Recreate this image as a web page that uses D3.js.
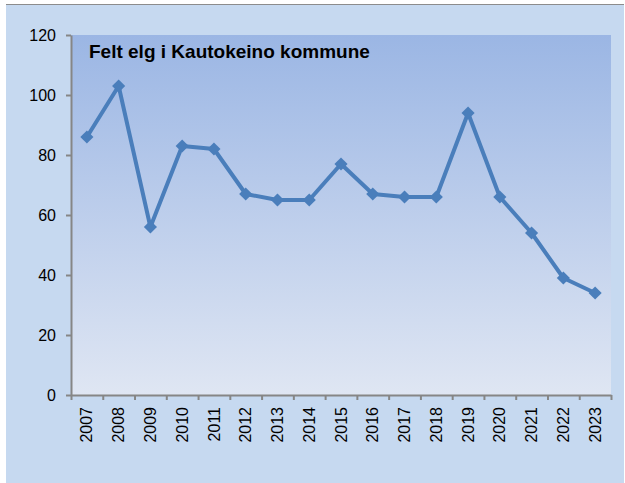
<!DOCTYPE html>
<html>
<head>
<meta charset="utf-8">
<script src="https://cdn.jsdelivr.net/npm/d3@7"></script>
<style>
    body { margin: 0; background: #fff; }
    text { font-family: "Liberation Sans", Arial, sans-serif; fill: #000; }
    .chart-title { font-size: 19px; font-weight: bold; }
</style>
</head>
<body>
<div id="chart"></div>
<script>
// Data
const years = ["2007", "2008", "2009", "2010", "2011", "2012", "2013", "2014", "2015",
    "2016", "2017", "2018", "2019", "2020", "2021", "2022", "2023"];
const felt = [86, 103, 56, 83, 82, 67, 65, 65, 77, 67, 66, 66, 94, 66, 54, 39, 34];
const yTicks = [0, 20, 40, 60, 80, 100, 120];

const width = 625;
const height = 483;
const margin = { top: 35, right: 14, bottom: 88, left: 71 };
const innerWidth = width - margin.left - margin.right;
const innerHeight = height - margin.top - margin.bottom;

const svg = d3.select("#chart")
    .append("svg")
    .attr("width", width)
    .attr("height", height);

const defs = svg.append("defs");
const gradient = defs.append("linearGradient")
    .attr("id", "plot-gradient")
    .attr("x1", "0%").attr("y1", "0%")
    .attr("x2", "0%").attr("y2", "100%");
gradient.append("stop").attr("offset", "0%").attr("stop-color", "#9bb6e4");
gradient.append("stop").attr("offset", "100%").attr("stop-color", "#dfe6f3");

// chart background
svg.append("rect")
    .attr("x", 6).attr("y", 4)
    .attr("width", width - 7).attr("height", height - 4)
    .attr("fill", "#c6d9f0");
svg.append("line")
    .attr("x1", 6).attr("x2", width - 1)
    .attr("y1", 4.5).attr("y2", 4.5)
    .attr("stroke", "#8c8c8c")
    .attr("stroke-width", 1);

const innerChart = svg.append("g")
    .attr("transform", `translate(${margin.left}, ${margin.top})`);

const xScale = d3.scaleBand()
    .domain(years)
    .range([0, innerWidth]);

const yScale = d3.scaleLinear()
    .domain([0, 120])
    .range([innerHeight, 0]);

innerChart.append("rect")
    .attr("width", innerWidth)
    .attr("height", innerHeight)
    .attr("fill", "url(#plot-gradient)");

// axes
const leftAxis = d3.axisLeft(yScale)
    .tickValues(yTicks)
    .tickSize(5)
    .tickPadding(10)
    .tickSizeOuter(0);

const yAxis = innerChart.append("g")
    .attr("class", "axis-y")
    .call(leftAxis)
    .attr("font-size", 16)
    .attr("font-family", null);

const bottomAxis = d3.axisBottom(xScale)
    .tickSize(0)
    .tickSizeOuter(0);

const xAxis = innerChart.append("g")
    .attr("class", "axis-x")
    .attr("transform", `translate(0, ${innerHeight})`)
    .call(bottomAxis)
    .attr("font-size", 16)
    .attr("font-family", null);

// category boundary ticks
xAxis.selectAll(".cat-tick")
    .data(years.concat(["end"]))
    .join("line")
    .attr("class", "cat-tick")
    .attr("x1", (d, i) => i * xScale.step() + 0.5)
    .attr("x2", (d, i) => i * xScale.step() + 0.5)
    .attr("y1", 0)
    .attr("y2", 5);

svg.selectAll(".axis-y path, .axis-x path, .axis-y line, .cat-tick")
    .attr("stroke", "#868686")
    .attr("stroke-width", 2);

xAxis.selectAll("text")
    .attr("text-anchor", "end")
    .attr("dy", "0.35em")
    .attr("transform", "translate(0, 12) rotate(-90)")
    .attr("y", 0)
    .attr("x", 0);

// line + markers
const blue = "#4a7ebb";

const lineGenerator = d3.line()
    .x((d, i) => xScale(years[i]) + xScale.bandwidth() / 2)
    .y(d => yScale(d));

innerChart.append("path")
    .attr("d", lineGenerator(felt))
    .attr("fill", "none")
    .attr("stroke", blue)
    .attr("stroke-width", 4)
    .attr("stroke-linejoin", "round");

innerChart.selectAll(".marker")
    .data(felt)
    .join("path")
    .attr("class", "marker")
    .attr("d", d3.symbol(d3.symbolDiamond2, 110))
    .attr("transform", (d, i) =>
        `translate(${xScale(years[i]) + xScale.bandwidth() / 2}, ${yScale(d)})`)
    .attr("fill", blue);

svg.append("text")
    .attr("class", "chart-title")
    .attr("x", 89)
    .attr("y", 58)
    .text("Felt elg i Kautokeino kommune");
</script>
</body>
</html>
